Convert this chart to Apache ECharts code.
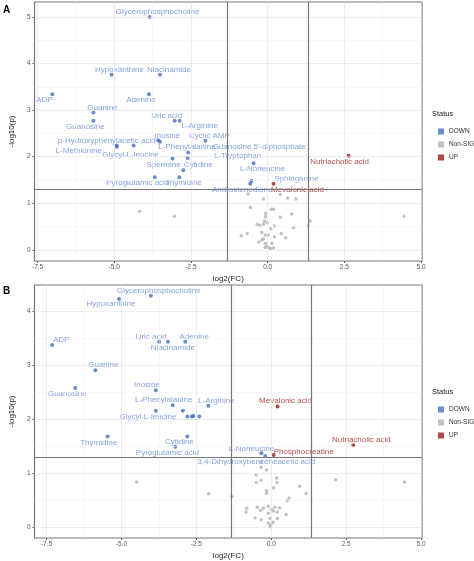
<!DOCTYPE html>
<html>
<head>
<meta charset="utf-8">
<script src="https://cdn.jsdelivr.net/npm/echarts@6/dist/echarts.min.js"></script>
<style>html,body{margin:0;padding:0;background:#fff}#main{width:474px;height:561px}</style>
</head>
<body>
<div id="main"></div>
<script>
// panel A : [log2FC, -log10p, name]
var aDown = [
  [-3.85, 5.0, 'Glycerophosphocholine'], [-5.09, 3.76, 'Hypoxanthine'], [-3.51, 3.76, 'Niacinamide'],
  [-3.87, 3.34, 'Adenine'], [-7.02, 3.34, 'ADP'], [-5.68, 2.95, 'Guanine'], [-5.68, 2.77, 'Guanosine'],
  [-3.03, 2.77, 'Uric acid'], [-2.87, 2.77, 'L-Arginine'], [-3.57, 2.35, 'Inosine'],
  [-3.51, 2.32, 'L-Phenylalanine'], [-2.03, 2.34, 'Cyclic AMP'], [-4.92, 2.24, 'p-Hydroxyphenylacetic acid'],
  [-4.92, 2.21, 'L-Methionine'], [-4.37, 2.24, 'Glycyl-L-leucine'], [-2.59, 2.09, "Guanosine 5'-diphosphate"],
  [-3.10, 1.96, 'Spermine'], [-2.61, 1.97, 'L-Tryptophan'], [-2.75, 1.71, 'Cytidine'],
  [-0.46, 1.86, 'L-Norleucine'], [-3.68, 1.56, 'Pyroglutamic acid'], [-2.88, 1.56, 'Thymidine'],
  [-0.53, 1.48, 'Sphinganine'], [-0.57, 1.42, 'Androstenedione']
];
var aUp = [[2.64, 2.02, 'Nutriacholic acid'], [0.19, 1.42, 'Mevalonic acid']];
var aNon = [
  [-4.17,0.83],[-3.04,0.72],[4.45,0.72],[-0.64,1.2],[0.41,1.19],[-0.13,1.09],[0.65,1.11],[0.92,1.09],
  [-0.56,0.91],[0.12,0.87],[0.19,0.87],[0.78,0.77],[-0.07,0.78],[-0.07,0.71],[0.41,0.7],[-0.11,0.62],
  [-0.14,0.55],[-0.02,0.58],[-0.34,0.55],[-0.26,0.52],[0.22,0.51],[1.38,0.62],[1.32,0.51],[0.84,0.48],
  [0.1,0.45],[-0.67,0.35],[-0.86,0.3],[0.44,0.35],[0.59,0.26],[-0.19,0.37],[-0.08,0.32],[-0.14,0.24],
  [0.02,0.32],[-0.29,0.17],[-0.19,0.21],[-0.08,0.14],[-0.02,0.08],[0.02,0.05],[0.09,0.03],[-0.08,0.05],
  [0.19,0.04],[0.14,0.14],[0.22,0.28]
];
// panel B
var bDown = [
  [-4.02, 4.29, 'Glycerophosphocholine'], [-5.08, 4.23, 'Hypoxanthine'], [-7.31, 3.38, 'ADP'],
  [-3.74, 3.44, 'Uric acid'], [-3.45, 3.44, 'Niacinamide'], [-2.87, 3.44, 'Adenine'],
  [-5.87, 2.91, 'Guanine'], [-6.54, 2.58, 'Guanosine'], [-3.85, 2.54, 'Inosine'],
  [-3.29, 2.26, 'L-Phenylalanine'], [-2.10, 2.25, 'L-Arginine'], [-3.85, 2.16, 'Glycyl-L-leucine'],
  [-2.95, 2.16, ''], [-2.80, 2.05, ''], [-2.65, 2.05, ''], [-2.60, 2.06, ''], [-2.40, 2.05, ''],
  [-5.46, 1.68, 'Thymidine'], [-2.80, 1.68, 'Cytidine'], [-3.20, 1.49, 'Pyroglutamic acid'],
  [-0.33, 1.37, 'L-Norleucine'], [-0.20, 1.32, '3,4-Dihydroxybenzeneacetic acid']
];
var bUp = [[0.21, 2.24, 'Mevalonic acid'], [0.08, 1.34, 'Phosphocreatine'], [2.74, 1.52, 'Nutriacholic acid']];
var bNon = [
  [-4.49,0.84],[-2.09,0.62],[-1.32,0.57],[2.15,0.88],[4.45,0.84],[-0.34,1.21],[-0.34,1.11],[-0.16,1.06],
  [-0.5,0.97],[-0.34,0.87],[-0.5,0.83],[0.18,0.91],[0.19,0.83],[0.08,0.73],[-0.16,0.68],[-0.16,0.63],
  [0.94,0.76],[1.16,0.63],[0.59,0.54],[0.53,0.49],[-0.82,0.35],[-0.84,0.28],[-0.47,0.37],[-0.36,0.31],
  [-0.26,0.35],[-0.1,0.39],[0.01,0.33],[0.12,0.37],[0.28,0.36],[0.2,0.28],[0.07,0.3],[-0.1,0.26],
  [-0.54,0.17],[-0.34,0.14],[-0.04,0.16],[0.2,0.16],[0.5,0.23],[-0.1,0.08],[-0.01,0.05],[-0.04,0.01],[0.06,0.09]
];
var xTicks = [-7.5, -5.0, -2.5, 0.0, 2.5, 5.0];
var aYTicks = [0, 1, 2, 3, 4, 5];
var bYTicks = [0, 1, 2, 3, 4];

// label offsets (px, label centre relative to point)
var aOff = {
  'Glycerophosphocholine':[8,-5],'Hypoxanthine':[8,-5],'Niacinamide':[9,-5],'Adenine':[-8,6],'ADP':[-8,6],
  'Guanine':[9,-5],'Guanosine':[-8,6],'Uric acid':[-8,-5],'L-Arginine':[20,5],'Inosine':[9,-5],
  'Cyclic AMP':[4,-5],'p-Hydroxyphenylacetic acid':[-10,-5],'L-Methionine':[-38,4],'Glycyl-L-leucine':[-3,9],
  'L-Phenylalanine':[27,5],"Guanosine 5'-diphosphate":[71,-6],'Spermine':[-9,6],'L-Tryptophan':[50,-2],
  'Cytidine':[15,-5],'L-Norleucine':[9,6],'Pyroglutamic acid':[-17,6],'Thymidine':[4,6],'Sphinganine':[45,-2],
  'Androstenedione':[-8,6],'Mevalonic acid':[24,6],'Nutriacholic acid':[-9,6]
};
var bOff = {
  'Glycerophosphocholine':[8,-5],'Hypoxanthine':[-8,5],'ADP':[9,-5],'Uric acid':[-8,-5],'Niacinamide':[5,6],
  'Adenine':[9,-5],'Guanine':[8,-5],'Guanosine':[-8,6],'Inosine':[-9,-5],'L-Phenylalanine':[-9,-5],
  'L-Arginine':[8,-5],'Glycyl-L-leucine':[-8,6],'Thymidine':[-9,6],'Cytidine':[-8,5],'Pyroglutamic acid':[-8,6],
  'L-Norleucine':[-10,-5],'3,4-Dihydroxybenzeneacetic acid':[-9,6],'Mevalonic acid':[8,-6],
  'Phosphocreatine':[30,-3],'Nutriacholic acid':[8,-5]
};

var DOWN = '#4470c0', DOWN_T = '#6488d8', UP = '#9e1a1a', UP_T = '#aa2020', NON = '#b3b3b3';
var SYM = 4;

function pts(arr, off, tcol) {
  return arr.map(function (d) {
    var item = {value: [d[0], d[1]], name: d[2] || ''};
    if (d[2] && off[d[2]]) {
      item.label = {show: true, position: [SYM / 2 + off[d[2]][0], SYM / 2 + off[d[2]][1]],
        align: 'center', verticalAlign: 'middle', formatter: '{b}',
        color: tcol, fontSize: 8, fontFamily: 'Liberation Sans'};
    }
    return item;
  });
}

function axes(i, ymin, ymax, xmin, yt) {
  var x = {type: 'value', gridIndex: i, min: xmin, max: 5.03,
    axisLine: {show: false, onZero: false},
    axisTick: {show: true, length: 2, customValues: xTicks, lineStyle: {color: '#555'}},
    axisLabel: {fontSize: 6.5, color: '#555', margin: 3, customValues: xTicks,
      formatter: function (v) { return v.toFixed(1); }},
    splitLine: {show: false},
    name: 'log2(FC)', nameLocation: 'middle', nameGap: 14, nameTextStyle: {fontSize: 8, color: '#222'}};
  var y = {type: 'value', gridIndex: i, min: ymin, max: ymax,
    axisLine: {show: false, onZero: false},
    axisTick: {show: true, length: 2, customValues: yt, lineStyle: {color: '#555'}},
    axisLabel: {fontSize: 6.5, color: '#555', margin: 4, customValues: yt},
    splitLine: {show: false},
    name: '-log10(p)', nameLocation: 'middle', nameGap: 14, nameRotate: 90, nameTextStyle: {fontSize: 8, color: '#222'}};
  return {x: x, y: y};
}

var A = axes(0, -0.24, 5.32, -7.6, aYTicks);
var B = axes(1, -0.2, 4.49, -7.9, bYTicks);

// background grid (major + minor) and threshold lines
function lines(yt) {
  var d = [];
  xTicks.forEach(function (v) {
    d.push({xAxis: v, lineStyle: {color: '#e2e2e2', width: 0.6}});
    if (v < 5) d.push({xAxis: v + 1.25, lineStyle: {color: '#f0f0f0', width: 0.5}});
  });
  yt.forEach(function (v) {
    d.push({yAxis: v, lineStyle: {color: '#e2e2e2', width: 0.6}});
    d.push({yAxis: v + 0.5, lineStyle: {color: '#f0f0f0', width: 0.5}});
  });
  [{xAxis: -1.32}, {xAxis: 1.32}, {yAxis: 1.3}].forEach(function (t) {
    t.lineStyle = {color: '#777', width: 1.2};
    d.push(t);
  });
  return {silent: true, symbol: 'none', label: {show: false}, lineStyle: {type: 'solid'}, data: d};
}

function series(i, down, up, non, off, yt) {
  return [
    {name: 'Non-SIG', type: 'scatter', xAxisIndex: i, yAxisIndex: i, symbolSize: 3.5,
      itemStyle: {color: NON}, data: non, markLine: lines(yt), z: 2},
    {name: 'DOWN', type: 'scatter', xAxisIndex: i, yAxisIndex: i, symbolSize: SYM,
      itemStyle: {color: DOWN}, data: pts(down, off, DOWN_T), z: 3},
    {name: 'UP', type: 'scatter', xAxisIndex: i, yAxisIndex: i, symbolSize: SYM,
      itemStyle: {color: UP}, data: pts(up, off, UP_T), z: 3}
  ];
}

function legend(top) {
  return {top: top, left: 433, orient: 'vertical', itemWidth: 6, itemHeight: 6, itemGap: 6,
    icon: 'rect', selectedMode: false, data: ['DOWN', 'Non-SIG', 'UP'],
    textStyle: {fontSize: 6.5, color: '#333'}};
}

var chart = echarts.init(document.getElementById('main'));
chart.setOption({
  animation: false,
  textStyle: {fontFamily: 'Liberation Sans'},
  grid: [
    {left: 30, right: 52, top: 2, height: 259, show: true, borderColor: '#777', borderWidth: 1.2},
    {left: 30, right: 52, top: 285, height: 253, show: true, borderColor: '#777', borderWidth: 1.2}
  ],
  xAxis: [A.x, B.x],
  yAxis: [A.y, B.y],
  legend: [legend(123), legend(401)],
  series: series(0, aDown, aUp, aNon, aOff, aYTicks).concat(series(1, bDown, bUp, bNon, bOff, bYTicks)),
  graphic: [
    {type: 'text', left: 3, top: 5, style: {text: 'A', font: 'bold 10px Liberation Sans', fill: '#000'}},
    {type: 'text', left: 3, top: 286, style: {text: 'B', font: 'bold 10px Liberation Sans', fill: '#000'}},
    {type: 'text', left: 432, top: 110, style: {text: 'Status', font: '7.5px Liberation Sans', fill: '#222'}},
    {type: 'text', left: 432, top: 388, style: {text: 'Status', font: '7.5px Liberation Sans', fill: '#222'}}
  ]
});
</script>
</body>
</html>
